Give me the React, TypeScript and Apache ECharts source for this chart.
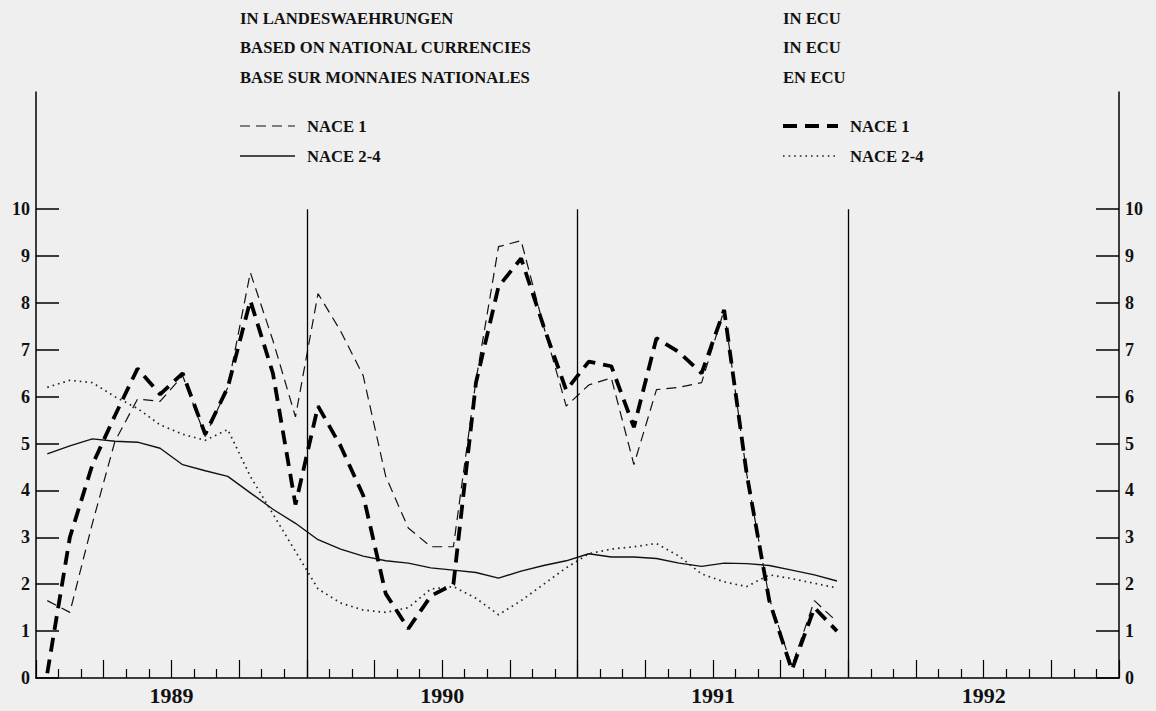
import React, { useEffect, useRef } from "react";
import * as echarts from "echarts";

// Monthly values, Jan 1989 - Dec 1991
const natNace1 = [1.65, 1.4, 3.3, 5.05, 5.95, 5.9, 6.45, 5.15, 6.2, 8.65, 7.2, 5.57, 8.2, 7.4, 6.45, 4.3, 3.2, 2.8, 2.8, 6.35, 9.2, 9.33, 7.5, 5.8, 6.25, 6.4, 4.55, 6.15, 6.2, 6.3, 7.85, 4.35, 1.7, 0.25, 1.65, 1.2];
const natNace24 = [4.78, 4.95, 5.1, 5.05, 5.03, 4.9, 4.55, 4.42, 4.3, 3.95, 3.6, 3.3, 2.95, 2.75, 2.6, 2.5, 2.45, 2.35, 2.3, 2.25, 2.13, 2.28, 2.4, 2.5, 2.65, 2.58, 2.58, 2.55, 2.45, 2.38, 2.45, 2.44, 2.4, 2.3, 2.2, 2.07];
const ecuNace1 = [0.1, 3.0, 4.55, 5.6, 6.6, 6.05, 6.5, 5.2, 6.2, 8.05, 6.5, 3.7, 5.8, 4.95, 3.9, 1.8, 1.05, 1.75, 2.0, 6.3, 8.35, 8.95, 7.5, 6.14, 6.75, 6.65, 5.35, 7.25, 6.95, 6.5, 7.85, 4.35, 1.65, 0.17, 1.5, 1.0];
const ecuNace24 = [6.2, 6.35, 6.3, 6.0, 5.75, 5.4, 5.2, 5.07, 5.3, 4.3, 3.5, 2.7, 1.9, 1.6, 1.45, 1.4, 1.5, 1.9, 1.95, 1.7, 1.35, 1.65, 2.0, 2.35, 2.65, 2.75, 2.8, 2.87, 2.6, 2.22, 2.05, 1.95, 2.2, 2.12, 2.02, 1.92];

const years = ["1989", "1990", "1991", "1992"];
const yTicks = [0, 1, 2, 3, 4, 5, 6, 7, 8, 9, 10];
const yearBoundaries = [12, 24, 36];

const titlesLeft = ["IN LANDESWAEHRUNGEN", "BASED ON NATIONAL CURRENCIES", "BASE SUR MONNAIES NATIONALES"];
const titlesRight = ["IN ECU", "IN ECU", "EN ECU"];
const legendLabels = ["NACE 1", "NACE 2-4"];

const FONT = "Liberation Serif";

const toPairs = (arr: number[]) => arr.map((v, i) => [i + 0.5, v]);

const styleNatNace1 = { color: "#111", width: 1.2, type: [10, 6] as number[] };
const styleNatNace24 = { color: "#111", width: 1.4, type: "solid" as any };
const styleEcuNace1 = { color: "#000", width: 3.8, type: [14, 8] as number[] };
const styleEcuNace24 = { color: "#222", width: 1.7, type: [1.6, 4] as number[] };

export default function App() {
  const ref = useRef<HTMLDivElement>(null);

  useEffect(() => {
    if (!ref.current) return;
    const chart = echarts.init(ref.current, undefined, { renderer: "svg" });

    const axisColor = "#000";
    const labelStyle = { color: "#111", fontFamily: FONT, fontWeight: "bold" as const };

    const textEl = (text: string, x: number, y: number) => ({
      type: "text",
      x,
      y,
      scaleX: 0.98,
      style: { text, fill: "#111", font: `bold 17px "${FONT}"`, textVerticalAlign: "middle" },
      silent: true,
    });

    const legendLine = (x: number, y: number, st: any) => ({
      type: "line",
      shape: { x1: x, y1: y, x2: x + 55, y2: y },
      style: {
        stroke: st.color,
        lineWidth: st.width,
        lineDash: Array.isArray(st.type) ? st.type : null,
      },
      silent: true,
    });

    const graphic: any[] = [];
    titlesLeft.forEach((t, i) => graphic.push(textEl(t, 240, 18 + i * 29.5)));
    titlesRight.forEach((t, i) => graphic.push(textEl(t, 783, 18 + i * 29.5)));
    const leftStyles = [styleNatNace1, styleNatNace24];
    const rightStyles = [styleEcuNace1, styleEcuNace24];
    legendLabels.forEach((t, i) => {
      const y = 126 + i * 30;
      graphic.push(legendLine(240, y, leftStyles[i]));
      graphic.push(textEl(t, 307, y));
      graphic.push(legendLine(783, y, rightStyles[i]));
      graphic.push(textEl(t, 850, y));
    });

    const yAxisBase = (position: "left" | "right") => ({
      type: "value",
      position,
      min: 0,
      max: 12.5,
      axisLine: { show: true, lineStyle: { color: axisColor, width: 1.5 } },
      axisTick: { show: true, inside: true, length: 23, customValues: yTicks, lineStyle: { color: axisColor, width: 1.5 } },
      axisLabel: { show: true, customValues: yTicks, margin: 6, ...labelStyle, fontSize: 18 },
      splitLine: { show: false },
    });

    const lineSeries = (name: string, data: number[], st: any, extra: any = {}) => ({
      name,
      type: "line",
      xAxisIndex: 0,
      yAxisIndex: 0,
      data: toPairs(data),
      showSymbol: false,
      symbol: "none",
      lineStyle: st,
      silent: true,
      ...extra,
    });

    chart.setOption({
      animation: false,
      backgroundColor: "#efefef",
      grid: { left: 36, right: 37, top: 92, bottom: 33, containLabel: false },
      xAxis: [
        {
          type: "value",
          position: "bottom",
          min: 0,
          max: 48,
          interval: 3,
          axisLine: { show: true, onZero: false, lineStyle: { color: axisColor, width: 1.6 } },
          axisTick: { show: true, inside: true, length: 18, lineStyle: { color: axisColor, width: 1.2 } },
          minorTick: { show: true, splitNumber: 3, length: 9, lineStyle: { color: axisColor, width: 1.2 } },
          axisLabel: {
            show: true,
            margin: 6,
            ...labelStyle,
            fontSize: 22,
            formatter: (v: number) => (v % 12 === 6 ? years[(v - 6) / 12] : ""),
          },
          splitLine: { show: false },
          minorSplitLine: { show: false },
        },
      ],
      yAxis: [yAxisBase("left"), yAxisBase("right")],
      graphic,
      series: [
        lineSeries("LW NACE 2-4", natNace24, styleNatNace24, {
          markLine: {
            silent: true,
            symbol: "none",
            label: { show: false },
            lineStyle: { color: "#000", width: 1.3, type: "solid" },
            data: yearBoundaries.map((x) => [{ coord: [x, 0] }, { coord: [x, 10] }]),
          },
        }),
        lineSeries("ECU NACE 2-4", ecuNace24, styleEcuNace24),
        lineSeries("LW NACE 1", natNace1, styleNatNace1),
        lineSeries("ECU NACE 1", ecuNace1, styleEcuNace1),
      ],
    });

    return () => chart.dispose();
  }, []);

  return (
    <div
      ref={ref}
      style={{ position: "fixed", left: 0, top: 0, width: 1156, height: 711 }}
    />
  );
}
